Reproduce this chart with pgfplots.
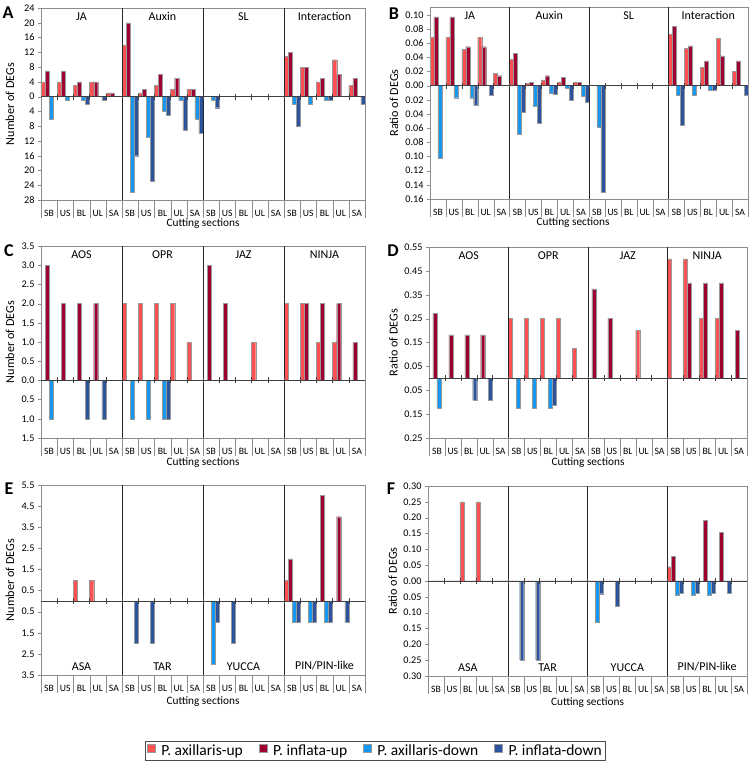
\documentclass[border=0pt]{standalone}
\usepackage{fontspec}
\setmainfont{Carlito}
\usepackage{pgfplots}
\usepackage{pgfplotstable}
\pgfplotsset{compat=1.18}
\definecolor{axU}{RGB}{250,82,82}
\definecolor{infU}{RGB}{158,0,48}
\definecolor{axD}{RGB}{22,152,240}
\definecolor{infD}{RGB}{44,84,158}

\pgfplotstableread{
x a b c d
0.5 4 7 -6 0
1.5 4 7 -1 0
2.5 3 4 -1 -2
3.5 4 4 0 -1
4.5 1 1 0 0
5.5 14 20 -26 -16
6.5 1 2 -11 -23
7.5 3 6 -4 -5
8.5 2 5 -1 -9
9.5 2 2 -6 -10
10.5 0 0 -1 -3
11.5 0 0 0 0
12.5 0 0 0 0
13.5 0 0 0 0
14.5 0 0 0 0
15.5 11 12 -2 -8
16.5 8 8 -2 0
17.5 4 5 -1 -1
18.5 10 6 0 0
19.5 3 5 0 -2
}\dataA

\pgfplotstableread{
x a b c d
0.5 0.068 0.097 -0.102 0
1.5 0.068 0.097 -0.017 0
2.5 0.051 0.055 -0.017 -0.028
3.5 0.068 0.055 0 -0.014
4.5 0.017 0.014 0 0
5.5 0.037 0.046 -0.068 -0.037
6.5 0.003 0.005 -0.029 -0.053
7.5 0.008 0.014 -0.011 -0.012
8.5 0.005 0.012 -0.003 -0.021
9.5 0.005 0.005 -0.015 -0.023
10.5 0 0 -0.059 -0.150
11.5 0 0 0 0
12.5 0 0 0 0
13.5 0 0 0 0
14.5 0 0 0 0
15.5 0.073 0.084 -0.014 -0.056
16.5 0.053 0.056 -0.014 0
17.5 0.026 0.035 -0.007 -0.007
18.5 0.067 0.042 0 0
19.5 0.020 0.035 0 -0.014
}\dataB

\pgfplotstableread{
x a b c d
0.5 0 3 -1 0
1.5 0 2 0 0
2.5 0 2 0 -1
3.5 0 2 0 -1
4.5 0 0 0 0
5.5 2 0 -1 0
6.5 2 0 -1 0
7.5 2 0 -1 -1
8.5 2 0 0 0
9.5 1 0 0 0
10.5 0 3 0 0
11.5 0 2 0 0
12.5 0 0 0 0
13.5 1 0 0 0
14.5 0 0 0 0
15.5 2 0 0 0
16.5 2 2 0 0
17.5 1 2 0 0
18.5 1 2 0 0
19.5 0 1 0 0
}\dataC

\pgfplotstableread{
x a b c d
0.5 0 0.273 -0.125 0
1.5 0 0.182 0 0
2.5 0 0.182 0 -0.091
3.5 0 0.182 0 -0.091
4.5 0 0 0 0
5.5 0.25 0 -0.125 0
6.5 0.25 0 -0.125 0
7.5 0.25 0 -0.125 -0.111
8.5 0.25 0 0 0
9.5 0.125 0 0 0
10.5 0 0.375 0 0
11.5 0 0.25 0 0
12.5 0 0 0 0
13.5 0.2 0 0 0
14.5 0 0 0 0
15.5 0.5 0 0 0
16.5 0.5 0.4 0 0
17.5 0.25 0.4 0 0
18.5 0.25 0.4 0 0
19.5 0 0.2 0 0
}\dataD

\pgfplotstableread{
x a b c d
0.5 0 0 0 0
1.5 0 0 0 0
2.5 1 0 0 0
3.5 1 0 0 0
4.5 0 0 0 0
5.5 0 0 0 -2
6.5 0 0 0 -2
7.5 0 0 0 0
8.5 0 0 0 0
9.5 0 0 0 0
10.5 0 0 -3 -1
11.5 0 0 0 -2
12.5 0 0 0 0
13.5 0 0 0 0
14.5 0 0 0 0
15.5 1 2 -1 -1
16.5 0 0 -1 -1
17.5 0 5 -1 -1
18.5 0 4 0 -1
19.5 0 0 0 0
}\dataE

\pgfplotstableread{
x a b c d
0.5 0 0 0 0
1.5 0 0 0 0
2.5 0.25 0 0 0
3.5 0.25 0 0 0
4.5 0 0 0 0
5.5 0 0 0 -0.25
6.5 0 0 0 -0.25
7.5 0 0 0 0
8.5 0 0 0 0
9.5 0 0 0 0
10.5 0 0 -0.13 -0.04
11.5 0 0 0 -0.08
12.5 0 0 0 0
13.5 0 0 0 0
14.5 0 0 0 0
15.5 0.045 0.077 -0.045 -0.038
16.5 0 0 -0.045 -0.038
17.5 0 0.192 -0.045 -0.038
18.5 0 0.154 0 -0.038
19.5 0 0 0 0
}\dataF

\pgfplotsset{
  panel/.style={
    scale only axis, ybar, bar width=0.25, xmin=0, xmax=20, clip=false,
    axis line style={black!45},
    xtick={0.5,1.5,...,19.5},
    xticklabels={SB,US,BL,UL,SA,SB,US,BL,UL,SA,SB,US,BL,UL,SA,SB,US,BL,UL,SA},
    xtick style={draw=none},
    xtick pos=bottom, ytick pos=left,
    tick align=outside,
    major tick length=3pt,
    ytick style={black!45},
    extra x ticks={0,1,...,20}, extra x tick labels={},
    extra x tick style={xtick style={draw=black!45}, major tick length=18pt},
    xticklabel style={font=\fontsize{9.7}{11}\selectfont, anchor=center, yshift=-10pt},
    yticklabel style={font=\fontsize{10.2}{12}\selectfont},
    /pgf/number format/assume math mode=true,
    xlabel={Cutting sections},
    xlabel style={font=\fontsize{11.3}{13}\selectfont, anchor=center},
    ylabel style={font=\fontsize{12.2}{14}\selectfont, anchor=center},
  },
  sA/.style={fill=axU, draw=black!40, line width=0.3pt, bar shift=-0.375},
  sB/.style={fill=infU, draw=black!40, line width=0.3pt, bar shift=-0.125},
  sC/.style={fill=axD, draw=black!40, line width=0.3pt, bar shift=0.125},
  sD/.style={fill=infD, draw=black!40, line width=0.3pt, bar shift=0.375},
}

\newcommand{\deco}[4]{%
  \draw[black!85] (rel axis cs:0.25,0) -- (rel axis cs:0.25,1);
  \draw[black!85] (rel axis cs:0.5,0) -- (rel axis cs:0.5,1);
  \draw[black!85] (rel axis cs:0.75,0) -- (rel axis cs:0.75,1);
  \draw[black!75] (axis cs:0,0) -- (axis cs:20,0);
  \pgfplotsinvokeforeach{1,...,19}{\draw[black!75] ([yshift=-3pt]axis cs:##1,0) -- ([yshift=3pt]axis cs:##1,0);}
}
\newcommand{\toplabels}[4]{%
  \node[anchor=north, yshift=-1pt, font=\fontsize{12}{14}\selectfont] at (rel axis cs:0.125,1) {#1};
  \node[anchor=north, yshift=-1pt, font=\fontsize{12}{14}\selectfont] at (rel axis cs:0.375,1) {#2};
  \node[anchor=north, yshift=-1pt, font=\fontsize{12}{14}\selectfont] at (rel axis cs:0.625,1) {#3};
  \node[anchor=north, yshift=-1pt, font=\fontsize{12}{14}\selectfont] at (rel axis cs:0.875,1) {#4};
}
\newcommand{\bottomlabels}[4]{%
  \node[anchor=south, yshift=1pt, font=\fontsize{12}{14}\selectfont] at (rel axis cs:0.125,0) {#1};
  \node[anchor=south, yshift=1pt, font=\fontsize{12}{14}\selectfont] at (rel axis cs:0.375,0) {#2};
  \node[anchor=south, yshift=1pt, font=\fontsize{12}{14}\selectfont] at (rel axis cs:0.625,0) {#3};
  \node[anchor=south, yshift=1pt, font=\fontsize{12}{14}\selectfont] at (rel axis cs:0.875,0) {#4};
}

\begin{document}
\begin{tikzpicture}
\useasboundingbox (0,0) rectangle (751pt,764pt);

% ---------- A ----------
\begin{axis}[panel, at={(41pt,564pt)}, anchor=south west, width=324pt, height=192pt,
  ymin=-28, ymax=24,
  ytick={-28,-24,-20,-16,-12,-8,-4,0,4,8,12,16,20,24},
  yticklabels={28,24,20,16,12,8,4,0,4,8,12,16,20,24},
  ylabel={Number of DEGs},
  ylabel style={at={(axis description cs:-0.0957,0.5)}},
  xlabel style={at={(axis description cs:0.5,-0.125)}}]
\addplot[sA] table[x=x,y=a]{\dataA};
\addplot[sB] table[x=x,y=b]{\dataA};
\addplot[sC] table[x=x,y=c]{\dataA};
\addplot[sD] table[x=x,y=d]{\dataA};
\deco{}{}{}{}
\toplabels{JA}{Auxin}{SL}{Interaction}
\end{axis}

% ---------- B ----------
\begin{axis}[panel, at={(430pt,565pt)}, anchor=south west, width=318pt, height=192pt,
  ymin=-0.16, ymax=0.111,
  ytick={-0.16,-0.14,-0.12,-0.10,-0.08,-0.06,-0.04,-0.02,0,0.02,0.04,0.06,0.08,0.10},
  yticklabels={0.16,0.14,0.12,0.10,0.08,0.06,0.04,0.02,0.00,0.02,0.04,0.06,0.08,0.10},
  ylabel={Ratio of DEGs},
  ylabel style={at={(axis description cs:-0.113,0.5)}},
  xlabel style={at={(axis description cs:0.45,-0.125)}}]
\addplot[sA] table[x=x,y=a]{\dataB};
\addplot[sB] table[x=x,y=b]{\dataB};
\addplot[sC] table[x=x,y=c]{\dataB};
\addplot[sD] table[x=x,y=d]{\dataB};
\deco{}{}{}{}
\toplabels{JA}{Auxin}{SL}{Interaction}
\end{axis}

% ---------- C ----------
\begin{axis}[panel, at={(41pt,326pt)}, anchor=south west, width=324pt, height=192pt,
  ymin=-1.5, ymax=3.5,
  ytick={-1.5,-1,-0.5,0,0.5,1,1.5,2,2.5,3,3.5},
  yticklabels={1.5,1.0,0.5,0.0,0.5,1.0,1.5,2.0,2.5,3.0,3.5},
  ylabel={Number of DEGs},
  ylabel style={at={(axis description cs:-0.0957,0.5)}},
  xlabel style={at={(axis description cs:0.5,-0.13)}}]
\addplot[sA] table[x=x,y=a]{\dataC};
\addplot[sB] table[x=x,y=b]{\dataC};
\addplot[sC] table[x=x,y=c]{\dataC};
\addplot[sD] table[x=x,y=d]{\dataC};
\deco{}{}{}{}
\toplabels{AOS}{OPR}{JAZ}{NINJA}
\end{axis}

% ---------- D ----------
\begin{axis}[panel, at={(429pt,326pt)}, anchor=south west, width=318pt, height=191pt,
  ymin=-0.25, ymax=0.55,
  ytick={-0.25,-0.15,-0.05,0.05,0.15,0.25,0.35,0.45,0.55},
  yticklabels={0.25,0.15,0.05,0.05,0.15,0.25,0.35,0.45,0.55},
  ylabel={Ratio of DEGs},
  ylabel style={at={(axis description cs:-0.112,0.5)}},
  xlabel style={at={(axis description cs:0.5,-0.13)}}]
\addplot[sA] table[x=x,y=a]{\dataD};
\addplot[sB] table[x=x,y=b]{\dataD};
\addplot[sC] table[x=x,y=c]{\dataD};
\addplot[sD] table[x=x,y=d]{\dataD};
\deco{}{}{}{}
\toplabels{AOS}{OPR}{JAZ}{NINJA}
\end{axis}

% ---------- E ----------
\begin{axis}[panel, at={(41pt,89pt)}, anchor=south west, width=324pt, height=190pt,
  ymin=-3.5, ymax=5.5,
  ytick={-3.5,-2.5,-1.5,-0.5,0.5,1.5,2.5,3.5,4.5,5.5},
  yticklabels={3.5,2.5,1.5,0.5,0.5,1.5,2.5,3.5,4.5,5.5},
  ylabel={Number of DEGs},
  ylabel style={at={(axis description cs:-0.0957,0.5)}},
  xlabel style={at={(axis description cs:0.5,-0.142)}},
  legend style={at={(axis description cs:1.032,-0.4)}, anchor=center, legend columns=4,
    draw=black!70, font=\fontsize{15.5}{17}\selectfont, inner sep=1.5pt,
    /tikz/every even column/.append style={column sep=14pt},
    /tikz/every odd column/.append style={column sep=4pt}},
  legend image code/.code={\draw[#1,/tikz/.cd,yshift=0.3em] (0pt,-4pt) rectangle (8pt,4pt);}]
\addplot[sA] table[x=x,y=a]{\dataE};
\addplot[sB] table[x=x,y=b]{\dataE};
\addplot[sC] table[x=x,y=c]{\dataE};
\addplot[sD] table[x=x,y=d]{\dataE};
\legend{P. axillaris-up, P. inflata-up, P. axillaris-down, P. inflata-down}
\deco{}{}{}{}
\bottomlabels{ASA}{TAR}{YUCCA}{PIN/PIN-like}
\end{axis}

% ---------- F ----------
\begin{axis}[panel, at={(428pt,88pt)}, anchor=south west, width=319pt, height=190pt,
  ymin=-0.3, ymax=0.3,
  ytick={-0.3,-0.25,-0.2,-0.15,-0.1,-0.05,0,0.05,0.1,0.15,0.2,0.25,0.3},
  yticklabels={0.30,0.25,0.20,0.15,0.10,0.05,0.00,0.05,0.10,0.15,0.20,0.25,0.30},
  ylabel={Ratio of DEGs},
  ylabel style={at={(axis description cs:-0.111,0.5)}},
  xlabel style={at={(axis description cs:0.5,-0.142)}}]
\addplot[sA] table[x=x,y=a]{\dataF};
\addplot[sB] table[x=x,y=b]{\dataF};
\addplot[sC] table[x=x,y=c]{\dataF};
\addplot[sD] table[x=x,y=d]{\dataF};
\deco{}{}{}{}
\bottomlabels{ASA}{TAR}{YUCCA}{PIN/PIN-like}
\end{axis}

% panel letters
\node[font=\fontsize{18}{20}\selectfont\bfseries] at (8pt,751pt) {A};
\node[font=\fontsize{18}{20}\selectfont\bfseries] at (394pt,750pt) {B};
\node[font=\fontsize{18}{20}\selectfont\bfseries] at (9pt,513pt) {C};
\node[font=\fontsize{18}{20}\selectfont\bfseries] at (393pt,513pt) {D};
\node[font=\fontsize{18}{20}\selectfont\bfseries] at (9pt,275pt) {E};
\node[font=\fontsize{18}{20}\selectfont\bfseries] at (391pt,275pt) {F};
\end{tikzpicture}
\end{document}
